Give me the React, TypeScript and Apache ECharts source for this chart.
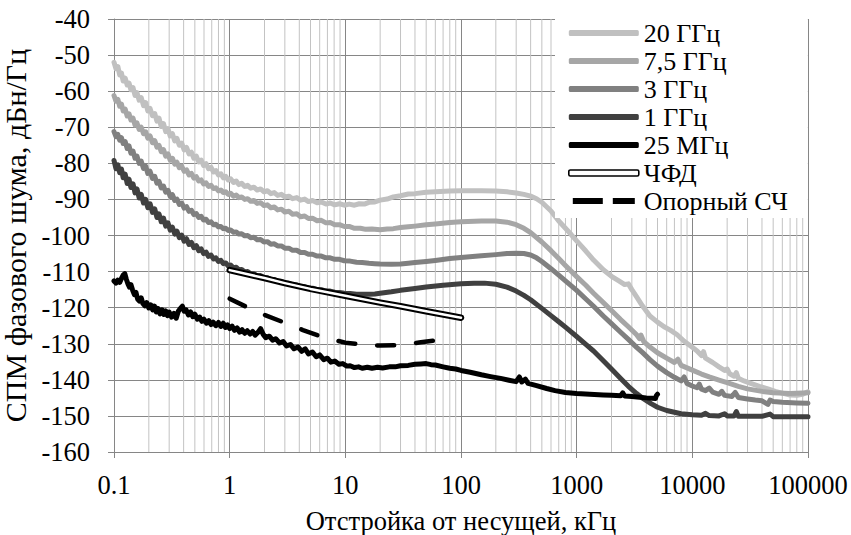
import { useEffect, useRef } from 'react';
import * as echarts from 'echarts';

type P = [number, number];

const FONT = 'Liberation Serif, Times New Roman, serif';

const GHZ20: P[] = [
  [0.1,-52],[0.104,-53.8],[0.108,-53.2],[0.112,-55.5],[0.116,-55],[0.12,-57.2],[0.125,-56.4],[0.13,-58.3],[0.135,-57.8],[0.14,-59.6],[0.146,-59],[0.152,-61.2],[0.158,-60.4],[0.165,-62.5],[0.172,-61.8],[0.18,-64],[0.188,-63.2],[0.196,-65.5],[0.205,-64.8],[0.215,-66.8],[0.225,-66.2],[0.235,-68.3],[0.245,-67.5],[0.256,-69.8],[0.268,-69],[0.28,-71.2],[0.293,-70.4],[0.306,-72.4],[0.32,-71.8],[0.335,-73.8],[0.35,-73.1],[0.367,-75],[0.385,-74.4],[0.404,-76.3],[0.424,-75.6],[0.445,-77.4],[0.467,-76.9],[0.49,-78.6],[0.515,-78],[0.54,-79.6],[0.567,-79.1],[0.595,-80.6],[0.625,-80.1],[0.656,-81.5],[0.69,-81.1],[0.725,-82.4],[0.76,-82],[0.8,-83.2],[0.84,-82.9],[0.88,-84],[0.925,-83.6],[0.97,-84.6],[1.02,-84.3],[1.08,-85.3],[1.14,-84.9],[1.2,-85.9],[1.27,-85.5],[1.35,-86.4],[1.43,-86.1],[1.52,-86.9],[1.62,-86.6],[1.73,-87.4],[1.85,-87.1],[1.98,-87.9],[2.12,-87.6],[2.27,-88.4],[2.43,-88.1],[2.6,-88.9],[2.8,-88.6],[3,-89.3],[3.25,-89.1],[3.5,-89.8],[3.8,-89.5],[4.1,-90.2],[4.45,-89.9],[4.8,-90.6],[5.2,-90.3],[5.7,-90.9],[6.2,-90.7],[6.8,-91.3],[7.4,-91],[8.1,-91.5],[8.9,-91.2],[9.8,-91.6],[10.8,-91.3],[12,-91.6],[13.2,-91.2],[14.6,-91.3],[16,-90.8],[18,-90.7],[20,-90.2],[23,-89.9],[26,-89.3],[30,-89],[35,-88.5],[40,-88.4],[50,-88],[60,-87.9],[80,-87.7],[100,-87.6],[150,-87.6],[200,-87.7],[250,-87.9],[300,-88.2],[350,-88.6],[400,-89.1],[450,-89.8],[500,-90.8],[600,-93.2],[700,-96],[800,-98],[900,-99.8],[1000,-101.5],[1200,-104.3],[1400,-106.8],[1700,-109.5],[2000,-111.3],[2300,-112.5],[2600,-113.6],[2800,-113.4],[3000,-115],[3300,-117],[3700,-119.5],[4300,-122.3],[5000,-124],[5700,-125.3],[6500,-126.3],[7400,-127.5],[8500,-129.3],[10000,-131],[11000,-132],[12000,-133.3],[12500,-132.2],[13000,-134],[15000,-135.2],[17000,-136.4],[19000,-137.4],[20000,-137],[21000,-138.3],[23000,-139],[24000,-138],[25000,-139.6],[28000,-140.3],[32000,-141],[38000,-141.8],[45000,-142.5],[52000,-143.2],[60000,-143.7],[70000,-144.2],[80000,-144.3],[90000,-144],[100000,-143.3]
];

const GHZ7_5: P[] = [
  [0.1,-61.2],[0.104,-62.8],[0.108,-62.3],[0.112,-64.2],[0.116,-63.6],[0.12,-65.5],[0.125,-65],[0.13,-66.9],[0.135,-66.3],[0.14,-68],[0.146,-67.5],[0.152,-69.4],[0.158,-68.8],[0.165,-70.6],[0.172,-70],[0.18,-71.8],[0.188,-71.3],[0.196,-73],[0.205,-72.4],[0.215,-74.3],[0.225,-73.7],[0.235,-75.5],[0.245,-75],[0.256,-76.8],[0.268,-76.2],[0.28,-78],[0.293,-77.4],[0.306,-79.1],[0.32,-78.6],[0.335,-80.2],[0.35,-79.7],[0.367,-81.2],[0.385,-80.8],[0.404,-82.2],[0.424,-81.8],[0.445,-83.2],[0.467,-82.8],[0.49,-84.1],[0.515,-83.7],[0.54,-84.9],[0.567,-84.6],[0.595,-85.7],[0.625,-85.4],[0.656,-86.4],[0.69,-86.1],[0.725,-87],[0.76,-86.8],[0.8,-87.6],[0.84,-87.4],[0.88,-88.1],[0.925,-87.9],[0.97,-88.6],[1.02,-88.3],[1.08,-89.1],[1.14,-88.8],[1.2,-89.5],[1.27,-89.3],[1.35,-90],[1.43,-89.8],[1.52,-90.5],[1.62,-90.3],[1.73,-91.1],[1.85,-90.9],[1.98,-91.7],[2.12,-91.5],[2.27,-92.3],[2.43,-92.1],[2.6,-92.9],[2.8,-92.7],[3,-93.5],[3.25,-93.3],[3.5,-94.1],[3.8,-94],[4.1,-94.8],[4.45,-94.6],[4.8,-95.3],[5.2,-95.2],[5.7,-95.9],[6.2,-95.8],[6.8,-96.5],[7.4,-96.4],[8.1,-97],[8.9,-97],[9.8,-97.5],[10.8,-97.5],[12,-98],[13.5,-98],[15,-98.3],[17,-98.2],[20,-98.4],[23,-98.2],[26,-98.1],[30,-97.8],[35,-97.6],[40,-97.4],[50,-97],[60,-96.8],[80,-96.4],[100,-96.2],[150,-96],[200,-96],[250,-96.3],[300,-97],[350,-98],[400,-99.2],[500,-101.8],[600,-104.2],[700,-106.4],[800,-108.3],[1000,-111.4],[1200,-113.8],[1400,-116],[1700,-118.6],[2000,-120.8],[2400,-123.3],[2800,-125.3],[3300,-127.5],[3500,-128.6],[3600,-127.6],[3800,-129.4],[4300,-130.9],[5000,-132.5],[6000,-134],[7000,-135.2],[7500,-134.3],[8000,-136],[10000,-137.3],[12000,-138.4],[14000,-139.2],[17000,-140.1],[20000,-140.8],[25000,-141.8],[30000,-142.5],[40000,-143.2],[50000,-143.6],[70000,-143.8],[100000,-143.6]
];

const GHZ3: P[] = [
  [0.1,-71.2],[0.104,-72.6],[0.108,-72],[0.112,-73.6],[0.116,-72.9],[0.12,-74.5],[0.125,-74],[0.13,-75.9],[0.135,-75.2],[0.14,-77.2],[0.146,-76.6],[0.152,-78.6],[0.158,-78],[0.165,-80],[0.172,-79.4],[0.18,-81.4],[0.188,-80.8],[0.196,-82.8],[0.205,-82.2],[0.215,-84.2],[0.225,-83.6],[0.235,-85.5],[0.245,-85],[0.256,-86.8],[0.268,-86.3],[0.28,-88],[0.293,-87.5],[0.306,-89.2],[0.32,-88.7],[0.335,-90.3],[0.35,-89.9],[0.367,-91.4],[0.385,-91],[0.404,-92.4],[0.424,-92],[0.445,-93.3],[0.467,-93],[0.49,-94.2],[0.515,-93.9],[0.54,-95],[0.567,-94.7],[0.595,-95.7],[0.625,-95.5],[0.656,-96.4],[0.69,-96.2],[0.725,-97],[0.76,-96.9],[0.8,-97.6],[0.84,-97.5],[0.88,-98.1],[0.925,-98],[0.97,-98.6],[1.02,-98.5],[1.08,-99.1],[1.14,-99],[1.2,-99.6],[1.27,-99.5],[1.35,-100.1],[1.43,-100],[1.52,-100.6],[1.62,-100.5],[1.73,-101.2],[1.85,-101.1],[1.98,-101.8],[2.12,-101.7],[2.27,-102.4],[2.43,-102.3],[2.6,-102.9],[2.8,-102.9],[3,-103.5],[3.25,-103.5],[3.5,-104.1],[3.8,-104.1],[4.1,-104.7],[4.45,-104.7],[4.8,-105.2],[5.2,-105.2],[5.7,-105.7],[6.2,-105.7],[6.8,-106.2],[7.4,-106.2],[8.1,-106.6],[8.9,-106.6],[9.8,-107],[11,-107.1],[12.5,-107.4],[14,-107.5],[16,-107.7],[18,-107.8],[20,-107.9],[25,-108],[30,-107.9],[35,-107.7],[40,-107.5],[50,-107.2],[60,-106.9],[80,-106.4],[100,-106.1],[150,-105.6],[200,-105.3],[250,-105],[300,-104.9],[350,-105],[400,-105.4],[450,-106.2],[500,-107.2],[600,-109.2],[700,-111],[800,-112.6],[1000,-115.2],[1200,-117.6],[1400,-119.6],[1700,-122.3],[2000,-124.4],[2400,-126.8],[2800,-128.8],[3300,-131],[3700,-132.4],[4300,-134.4],[5000,-136.2],[6000,-138],[7000,-139.3],[8000,-140.3],[8500,-139.2],[9000,-141],[10000,-141.7],[11000,-142.2],[11500,-141.2],[12000,-142.6],[13000,-143],[14000,-142.3],[15000,-143.4],[17000,-144],[18000,-143.2],[19000,-144.3],[22000,-144.6],[23500,-143.5],[25000,-144.9],[30000,-145.3],[35000,-145.6],[40000,-145.8],[45000,-146.8],[47000,-145.6],[50000,-146],[60000,-146.2],[80000,-146.4],[100000,-146.5]
];

const GHZ1: P[] = [
  [0.1,-79.2],[0.104,-81.5],[0.108,-80.4],[0.112,-82.6],[0.116,-81.6],[0.12,-84],[0.125,-83],[0.13,-85.6],[0.135,-84.4],[0.14,-86.7],[0.146,-85.7],[0.152,-88.2],[0.158,-87.1],[0.165,-89.6],[0.172,-88.6],[0.18,-91],[0.188,-90],[0.196,-92.3],[0.205,-91.2],[0.215,-93.6],[0.225,-92.6],[0.235,-95],[0.245,-94],[0.256,-96.2],[0.268,-95.2],[0.28,-97.4],[0.293,-96.5],[0.306,-98.5],[0.32,-97.7],[0.335,-99.6],[0.35,-98.8],[0.367,-100.6],[0.385,-99.9],[0.404,-101.6],[0.424,-100.9],[0.445,-102.5],[0.467,-101.9],[0.49,-103.4],[0.515,-102.8],[0.54,-104.2],[0.567,-103.7],[0.595,-105],[0.625,-104.6],[0.656,-105.8],[0.69,-105.4],[0.725,-106.5],[0.76,-106.2],[0.8,-107.2],[0.84,-106.9],[0.88,-107.8],[0.925,-107.6],[0.97,-108.4],[1.02,-108.2],[1.08,-109],[1.14,-108.8],[1.2,-109.5],[1.27,-109.4],[1.35,-110.1],[1.43,-110],[1.52,-110.6],[1.62,-110.6],[1.73,-111.2],[1.85,-111.1],[1.98,-111.7],[2.12,-111.7],[2.27,-112.2],[2.43,-112.2],[2.6,-112.7],[2.8,-112.7],[3,-113.2],[3.25,-113.2],[3.5,-113.7],[3.8,-113.7],[4.1,-114.2],[4.45,-114.2],[4.8,-114.6],[5.2,-114.6],[5.7,-115],[6.2,-115],[6.8,-115.4],[7.4,-115.4],[8.1,-115.7],[8.9,-115.8],[9.8,-116],[11,-116.1],[12.5,-116.3],[14,-116.3],[16,-116.3],[18,-116.2],[20,-116],[25,-115.6],[30,-115.2],[40,-114.7],[50,-114.3],[70,-113.8],[100,-113.4],[130,-113.2],[160,-113.2],[200,-113.5],[250,-114.3],[300,-115.4],[350,-116.6],[400,-117.8],[500,-120.2],[600,-122.2],[700,-123.9],[800,-125.4],[1000,-128],[1200,-130.2],[1400,-132],[1700,-134.7],[2000,-137],[2400,-139.6],[2800,-141.8],[3300,-143.8],[3800,-145.3],[4400,-146.6],[5000,-147.6],[6000,-148.5],[7000,-149],[8000,-149.4],[10000,-149.7],[12000,-149.8],[13000,-149.3],[14000,-149.9],[17000,-150],[19000,-149.4],[20000,-150],[23000,-150],[24000,-148.8],[25000,-150.1],[30000,-150.1],[40000,-150.1],[47000,-149.5],[50000,-150.2],[70000,-150.2],[100000,-150.2]
];

const MHZ25: P[] = [
  [0.1,-112.6],[0.104,-113.2],[0.108,-112.4],[0.112,-113],[0.116,-111.9],[0.12,-111],[0.124,-110.6],[0.128,-112.2],[0.132,-113.4],[0.136,-114.3],[0.14,-113.6],[0.145,-115.2],[0.15,-116.4],[0.155,-115.8],[0.16,-117.6],[0.166,-118.2],[0.172,-117.3],[0.178,-118.9],[0.185,-119.5],[0.192,-118.6],[0.2,-120.1],[0.208,-119.2],[0.216,-120.6],[0.224,-119.6],[0.232,-121.2],[0.24,-120.2],[0.25,-121.7],[0.26,-120.6],[0.27,-121.9],[0.28,-120.9],[0.29,-122.2],[0.3,-121.2],[0.315,-122.6],[0.33,-121.6],[0.345,-122.9],[0.36,-121],[0.375,-120.2],[0.39,-119.6],[0.405,-121],[0.42,-120.6],[0.44,-122],[0.46,-121.2],[0.48,-122.5],[0.5,-121.8],[0.525,-123.2],[0.55,-122.6],[0.575,-123.8],[0.6,-123.2],[0.63,-124.3],[0.66,-123.6],[0.69,-124.7],[0.72,-124],[0.76,-125],[0.8,-124.1],[0.84,-125.2],[0.88,-124.3],[0.92,-125.5],[0.96,-124.8],[1,-125.8],[1.05,-125.1],[1.1,-126.3],[1.16,-125.6],[1.22,-126.8],[1.28,-126.1],[1.35,-127.1],[1.42,-126.4],[1.5,-127.3],[1.58,-126.6],[1.66,-127.6],[1.75,-126.9],[1.85,-125.8],[1.95,-127.4],[2.05,-128.3],[2.2,-127.9],[2.35,-129],[2.5,-128.6],[2.7,-129.8],[2.9,-129.4],[3.1,-130.6],[3.35,-130.2],[3.6,-131.4],[3.9,-130.9],[4.2,-132.1],[4.5,-131.4],[4.8,-132.8],[5.2,-132.3],[5.6,-133.6],[6,-133.1],[6.5,-134.4],[7,-134],[7.5,-135.1],[8.1,-134.8],[8.8,-135.7],[9.5,-135.5],[10.3,-136.2],[11,-136.1],[12,-136.6],[13,-136.4],[14,-136.8],[15.5,-136.5],[17,-136.8],[19,-136.5],[21,-136.7],[24,-136.4],[27,-136.4],[30,-136.1],[35,-136],[40,-135.7],[45,-135.6],[50,-135.5],[55,-135.8],[60,-135.9],[70,-136.4],[80,-136.8],[90,-137],[100,-137.4],[120,-137.9],[150,-138.6],[180,-139.1],[220,-139.6],[260,-140.1],[300,-140.5],[320,-139.2],[335,-140.6],[360,-139.8],[380,-141],[450,-141.6],[550,-142.4],[650,-143],[800,-143.5],[1000,-143.8],[1300,-144],[1700,-144.2],[2000,-144.3],[2400,-144.4],[2500,-143.6],[2600,-144.5],[3000,-144.6],[3500,-144.8],[4000,-145],[4500,-145.1],[4800,-145.2],[4900,-144.3],[5000,-144]
];

const PFD: P[] = [
  [1,-109.6],[2,-111.8],[3,-113.2],[5,-114.8],[10,-116.7],[20,-118.6],[30,-119.6],[50,-121],[100,-122.8]
];

const REF_OSC: P[] = [
  [1,-117.5],[1.4,-119.8],[2,-122],[3,-124.2],[4.3,-126.2],[6.3,-128.1],[10,-129.7],[15,-130.3],[20,-130.5],[30,-130.4],[45,-129.6],[65,-128.9]
];

const NAMES = ['20 ГГц', '7,5 ГГц', '3 ГГц', '1 ГГц', '25 МГц', 'ЧФД', 'Опорный СЧ'];
const X_DECADES = [0.1, 1, 10, 100, 1000, 10000];
const MINOR_MULT = [2, 3, 4, 5, 6, 7, 8, 9];
const X_MIN = 0.1;
const X_MAX = 100000;
const Y_MIN = -160;
const Y_MAX = -40;
const Y_STEP = 10;
const X_TITLE = 'Отстройка от несущей, кГц';
const Y_TITLE = 'СПМ фазового шума, дБн/Гц';

const minorX: number[] = [];
X_DECADES.forEach((d) => MINOR_MULT.forEach((m) => minorX.push(+(d * m).toPrecision(6))));

function lineSeries(name: string, data: P[], color: string, width: number, extra: any = {}) {
  return {
    type: 'line',
    name,
    data,
    symbol: 'none',
    showSymbol: false,
    silent: true,
    z: 2,
    color,
    lineStyle: { color, width, cap: 'round', join: 'round' },
    itemStyle: { color },
    ...extra,
  };
}

export default function App() {
  const ref = useRef<HTMLDivElement>(null);
  useEffect(() => {
    if (!ref.current) return;
    const chart = echarts.init(ref.current, undefined, { renderer: 'svg' });
    const option: any = {
      animation: false,
      backgroundColor: '#fff',
      textStyle: { fontFamily: FONT },
      grid: { left: 114, right: 43, top: 19, bottom: 83, containLabel: false, outerBoundsMode: 'none' },
      xAxis: {
        type: 'log',
        logBase: 10,
        min: X_MIN,
        max: X_MAX,
        name: X_TITLE,
        nameLocation: 'middle',
        nameGap: 55,
        nameTextStyle: { fontFamily: FONT, fontSize: 26.5, color: '#000' },
        axisLine: { show: true, lineStyle: { color: '#868686', width: 1 } },
        axisTick: { show: true, length: 6, lineStyle: { color: '#868686' } },
        axisLabel: {
          fontFamily: FONT,
          fontSize: 26.5,
          color: '#000',
          margin: 19,
          formatter: (v: number) => (v < 1 ? String(+v.toFixed(1)) : String(Math.round(v))),
        },
        splitLine: { show: true, lineStyle: { color: '#868686', width: 1 } },
      },
      yAxis: {
        type: 'value',
        min: Y_MIN,
        max: Y_MAX,
        interval: Y_STEP,
        name: Y_TITLE,
        nameLocation: 'middle',
        nameGap: 78,
        nameTextStyle: { fontFamily: FONT, fontSize: 30, color: '#000' },
        axisLine: { show: true, lineStyle: { color: '#868686', width: 1 } },
        axisTick: { show: true, length: 6, lineStyle: { color: '#868686' } },
        axisLabel: { fontFamily: FONT, fontSize: 26.5, color: '#000', margin: 24 },
        splitLine: { show: true, lineStyle: { color: '#868686', width: 1 } },
      },
      legend: {
        orient: 'vertical',
        left: 555,
        top: 18,
        zlevel: 1,
        z: 10,
        padding: [1, 20, 3, 13],
        backgroundColor: '#ffffff',
        itemGap: 0,
        itemWidth: 70,
        itemHeight: 6,
        selectedMode: false,
        textStyle: { fontFamily: FONT, fontSize: 26, color: '#000', lineHeight: 28 },
        data: [
          { name: NAMES[0], icon: 'roundRect', itemStyle: { color: '#c0c0c0', borderWidth: 0 } },
          { name: NAMES[1], icon: 'roundRect', itemStyle: { color: '#a6a6a6', borderWidth: 0 } },
          { name: NAMES[2], icon: 'roundRect', itemStyle: { color: '#808080', borderWidth: 0 } },
          { name: NAMES[3], icon: 'roundRect', itemStyle: { color: '#404040', borderWidth: 0 } },
          { name: NAMES[4], icon: 'roundRect', itemStyle: { color: '#000000', borderWidth: 0 } },
          { name: NAMES[5], icon: 'roundRect', itemStyle: { color: '#ffffff', borderColor: '#000', borderWidth: 1.6 } },
          { name: NAMES[6], icon: 'path://M0,0H30V6H0Z M40,0H62V6H40Z', itemStyle: { color: '#000000', borderWidth: 0 } },
        ],
      },
      series: [
        {
          type: 'custom',
          name: 'minor-grid',
          silent: true,
          z: 1,
          data: minorX.map((x) => [x, Y_MIN]),
          encode: { x: 0, y: 1 },
          renderItem: (_p: any, api: any) => {
            const x = api.value(0);
            const a = api.coord([x, Y_MIN]);
            const b = api.coord([x, Y_MAX]);
            return {
              type: 'line',
              shape: { x1: a[0], y1: a[1], x2: b[0], y2: b[1] },
              style: { stroke: '#c3c3c3', lineWidth: 1 },
            };
          },
        },
        lineSeries(NAMES[0], GHZ20, '#c0c0c0', 5),
        lineSeries(NAMES[1], GHZ7_5, '#a6a6a6', 5),
        lineSeries(NAMES[2], GHZ3, '#808080', 5),
        lineSeries(NAMES[3], GHZ1, '#404040', 5),
        lineSeries(NAMES[4], MHZ25, '#000000', 5),
        lineSeries(NAMES[5], PFD, '#000000', 6.5),
        lineSeries('ЧФД (inner)', PFD, '#ffffff', 2.5),
        lineSeries(NAMES[6], REF_OSC, '#000000', 4.5, {
          lineStyle: { color: '#000', width: 4.5, type: [17, 22], cap: 'round', join: 'round' },
        }),
      ],
    };
    chart.setOption(option);
    return () => chart.dispose();
  }, []);
  return (
    <div
      ref={ref}
      style={{ position: 'absolute', left: 0, top: 0, width: 851, height: 535, background: '#fff' }}
    />
  );
}
